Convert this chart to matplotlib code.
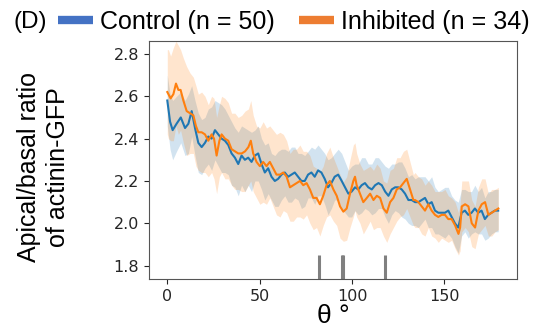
import numpy as np
import matplotlib.pyplot as plt
from matplotlib.lines import Line2D

# ------------------------------------------------------------
# DATA
# ------------------------------------------------------------
theta_control = [0, 1.5, 2.9, 5, 7.3, 9.6, 11.4, 13.2, 15, 16.8, 18.6, 20.4, 22.2, 24,
                 25.8, 27.6, 29.4, 31.2, 33, 34.8, 36.6, 38.4, 40.2, 42, 43.8, 45.6,
                 47.4, 49.2, 51, 52.8, 54.6, 56.4, 58.2, 60, 61.8, 63.6, 65.4, 67.2,
                 69, 70.8, 72.6, 74.4, 76.2, 78, 79.8, 81.6, 83.4, 85.2, 87, 88.8,
                 90.6, 92.5, 94.4, 96.2, 98, 99.8, 101.6, 103.4, 105.2, 107, 108.8,
                 110.7, 112.5, 114.3, 116.1, 117.9, 119.7, 121.5, 123.3, 125.1, 126.9,
                 128.7, 130.5, 132.3, 134.1, 135.9, 137.7, 139.5, 141.3, 143.1, 144.9,
                 146.7, 148.5, 150.3, 152.1, 153.9, 155.7, 157.5, 159.3, 161.1, 162.9,
                 164.7, 166.5, 168.3, 170.1, 171.9, 173.7, 175.5, 177.3, 179.1]
control_mean = [2.58, 2.48, 2.44, 2.47, 2.50, 2.45, 2.47, 2.53, 2.45, 2.38, 2.36, 2.38,
                2.41, 2.40, 2.44, 2.42, 2.40, 2.39, 2.37, 2.33, 2.31, 2.28, 2.32, 2.30,
                2.31, 2.29, 2.32, 2.33, 2.28, 2.24, 2.26, 2.22, 2.20, 2.21, 2.23, 2.24,
                2.22, 2.23, 2.24, 2.22, 2.20, 2.20, 2.23, 2.24, 2.22, 2.25, 2.24, 2.21,
                2.17, 2.19, 2.22, 2.23, 2.20, 2.17, 2.14, 2.15, 2.17, 2.16, 2.18, 2.19,
                2.17, 2.16, 2.18, 2.19, 2.18, 2.15, 2.13, 2.16, 2.17, 2.17, 2.16, 2.14,
                2.11, 2.11, 2.10, 2.10, 2.11, 2.12, 2.09, 2.10, 2.06, 2.05, 2.05, 2.05,
                2.06, 2.03, 2.00, 1.98, 2.05, 2.06, 2.04, 2.05, 2.07, 2.05, 2.06, 2.02,
                2.04, 2.05, 2.06, 2.06]
control_err = [0.12, 0.13, 0.14, 0.13, 0.12, 0.13, 0.14, 0.12, 0.13, 0.14, 0.13, 0.12,
               0.13, 0.15, 0.14, 0.15, 0.16, 0.15, 0.14, 0.15, 0.14, 0.15, 0.14, 0.15,
               0.13, 0.14, 0.12, 0.13, 0.12, 0.13, 0.12, 0.11, 0.12, 0.13, 0.12, 0.11,
               0.12, 0.13, 0.12, 0.11, 0.13, 0.12, 0.11, 0.12, 0.13, 0.12, 0.11, 0.12,
               0.13, 0.12, 0.11, 0.12, 0.13, 0.12, 0.11, 0.12, 0.11, 0.12, 0.13, 0.12,
               0.11, 0.12, 0.13, 0.12, 0.11, 0.12, 0.13, 0.12, 0.11, 0.12, 0.13, 0.12,
               0.11, 0.12, 0.11, 0.12, 0.11, 0.10, 0.11, 0.12, 0.11, 0.10, 0.11, 0.12,
               0.11, 0.10, 0.11, 0.12, 0.11, 0.10, 0.11, 0.10, 0.11, 0.10, 0.11, 0.10,
               0.11, 0.10, 0.10, 0.10]

theta_inhib = [0, 0.6, 1.8, 3.3, 4.7, 6.0, 7.2, 8.7, 10.5, 12.3, 14.1, 15.5, 16.8, 18.6,
               20.4, 22.2, 24.0, 25.3, 26.7, 28.2, 29.4, 31.2, 33.0, 34.8, 36.6, 38.4,
               40.3, 42.1, 43.9, 45.2, 46.5, 48.3, 50.1, 51.9, 53.7, 55.5, 57.3, 59.1,
               61.0, 62.8, 64.6, 66.4, 68.2, 70.0, 71.8, 73.6, 75.4, 77.2, 79.0, 80.8,
               82.6, 84.4, 86.2, 88.0, 89.9, 91.7, 93.5, 95.3, 97.1, 98.9, 100.7, 101.6,
               102.5, 104.3, 106.1, 108.0, 109.8, 111.6, 113.4, 115.2, 117.0, 118.8,
               120.6, 122.4, 124.2, 126.0, 127.8, 129.6, 131.4, 133.2, 134.1, 135.9,
               137.7, 139.5, 141.3, 143.1, 144.9, 146.7, 148.5, 150.3, 152.1, 153.9,
               155.8, 157.6, 158.5, 159.4, 161.2, 163.0, 164.8, 166.6, 168.4, 170.2,
               172.0, 173.8, 175.6, 177.4, 179.2]
inhib_mean = [2.62, 2.61, 2.59, 2.61, 2.66, 2.63, 2.63, 2.58, 2.53, 2.52, 2.51, 2.46,
              2.43, 2.43, 2.42, 2.39, 2.42, 2.40, 2.32, 2.39, 2.42, 2.40, 2.39, 2.35,
              2.34, 2.33, 2.33, 2.34, 2.36, 2.39, 2.33, 2.29, 2.27, 2.29, 2.27, 2.29,
              2.26, 2.23, 2.23, 2.24, 2.22, 2.17, 2.18, 2.19, 2.20, 2.18, 2.19, 2.16,
              2.12, 2.12, 2.09, 2.13, 2.18, 2.20, 2.16, 2.13, 2.08, 2.055, 2.07, 2.14,
              2.20, 2.22, 2.18, 2.14, 2.10, 2.12, 2.14, 2.11, 2.13, 2.12, 2.07, 2.05,
              2.10, 2.12, 2.16, 2.17, 2.19, 2.21, 2.16, 2.11, 2.11, 2.10, 2.08, 2.06,
              2.09, 2.06, 2.04, 2.03, 2.04, 2.04, 2.02, 2.02, 1.99, 1.95, 1.98, 2.08,
              2.09, 2.08, 2.00, 1.98, 2.06, 2.09, 2.10, 2.04, 2.05, 2.06, 2.07]
inhib_err = [0.20, 0.21, 0.20, 0.22, 0.20, 0.21, 0.19, 0.20, 0.21, 0.19, 0.18, 0.19,
             0.18, 0.19, 0.18, 0.17, 0.18, 0.19, 0.18, 0.17, 0.18, 0.19, 0.18, 0.17,
             0.18, 0.17, 0.18, 0.19, 0.18, 0.19, 0.18, 0.17, 0.18, 0.19, 0.18, 0.17,
             0.18, 0.19, 0.20, 0.18, 0.17, 0.16, 0.17, 0.16, 0.17, 0.16, 0.15, 0.16,
             0.15, 0.14, 0.15, 0.14, 0.15, 0.16, 0.15, 0.14, 0.15, 0.14, 0.15, 0.16,
             0.17, 0.16, 0.15, 0.14, 0.15, 0.14, 0.13, 0.14, 0.15, 0.14, 0.13, 0.14,
             0.15, 0.14, 0.15, 0.14, 0.15, 0.14, 0.13, 0.12, 0.13, 0.12, 0.13, 0.12,
             0.11, 0.12, 0.11, 0.12, 0.11, 0.12, 0.11, 0.10, 0.11, 0.10, 0.11, 0.12,
             0.11, 0.12, 0.11, 0.10, 0.11, 0.12, 0.11, 0.10, 0.11, 0.10, 0.10]

# angles marked along the bottom of the panel
marker_angles = [82.1, 94.3, 94.9, 118.0]

labels = ['Control (n = 50)', 'Inhibited (n = 34)']

# ------------------------------------------------------------
# STYLE
# ------------------------------------------------------------
C_CONTROL = '#1f77b4'
C_INHIB = '#ff7f0e'
C_CONTROL_LEG = '#4472c4'
C_INHIB_LEG = '#ed7d31'
ARIAL = ['Liberation Sans', 'DejaVu Sans']

# ------------------------------------------------------------
# FIGURE
# ------------------------------------------------------------
fig = plt.figure(figsize=(5.47, 3.31), dpi=100)
ax = fig.add_axes([0.2724, 0.1571, 0.6728, 0.719])

t_c = np.array(theta_control)
m_c = np.array(control_mean)
e_c = np.array(control_err)
t_i = np.array(theta_inhib)
m_i = np.array(inhib_mean)
e_i = np.array(inhib_err)

ax.fill_between(t_c, m_c - e_c, m_c + e_c, color=C_CONTROL, alpha=0.2, linewidth=0)
ax.fill_between(t_i, m_i - e_i, m_i + e_i, color=C_INHIB, alpha=0.2, linewidth=0)
ax.plot(t_c, m_c, color=C_CONTROL, linewidth=1.5)
ax.plot(t_i, m_i, color=C_INHIB, linewidth=1.5)

ax.vlines(marker_angles, 0, 0.1, transform=ax.get_xaxis_transform(),
          color='#808080', linewidth=2.2)

ax.set_xlim(-9.9, 189.3)
ax.set_ylim(1.737, 2.861)
ax.set_xticks([0, 50, 100, 150])
ax.set_yticks([1.8, 2.0, 2.2, 2.4, 2.6, 2.8])
ax.tick_params(labelsize=11.5, colors='#262626', length=3.5)
for s in ax.spines.values():
    s.set_color('#555555')

ax.set_xlabel('θ °', fontsize=19, family=ARIAL, labelpad=0)
ax.set_ylabel('Apical/basal ratio\nof actinin-GFP', fontsize=18, family=ARIAL,
              linespacing=1.25)
ax.yaxis.set_label_coords(-0.215, 0.47)

handles = [Line2D([], [], color=C_CONTROL_LEG, linewidth=6, solid_capstyle='butt'),
           Line2D([], [], color=C_INHIB_LEG, linewidth=6, solid_capstyle='butt')]
fig.legend(handles, labels, loc='center', bbox_to_anchor=(0.537, 0.935), ncol=2,
           frameon=False, prop={'family': ARIAL, 'size': 18},
           handlelength=1.4, handletextpad=0.3, columnspacing=0.95,
           borderaxespad=0, borderpad=0)
fig.text(0.024, 0.935, '(D)', fontsize=17.5, family=ARIAL, va='center', ha='left')

fig.savefig('out.png', dpi=100)
